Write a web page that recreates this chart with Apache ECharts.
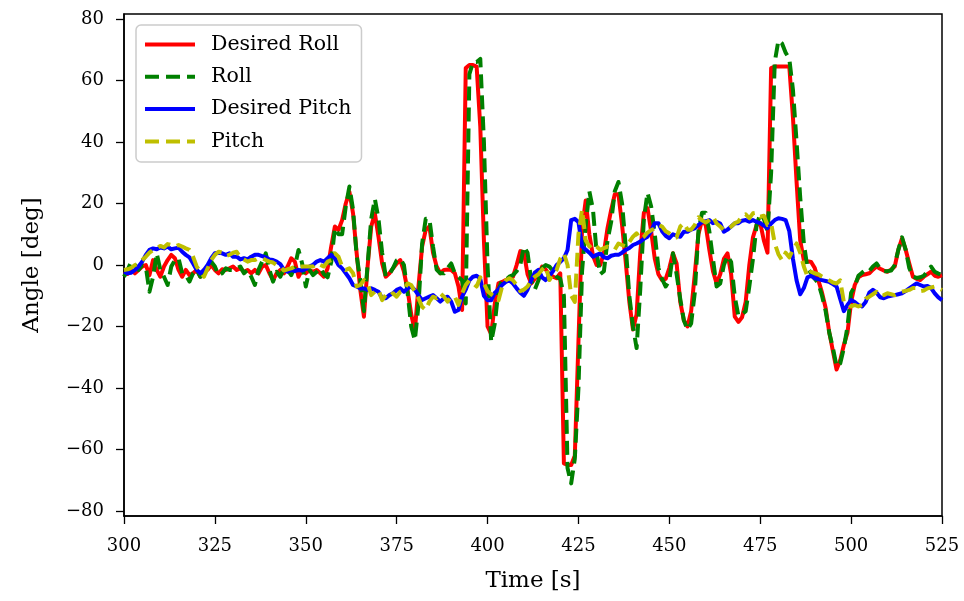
<!DOCTYPE html>
<html>
<head>
<meta charset="utf-8">
<script src="https://cdn.jsdelivr.net/npm/echarts@6/dist/echarts.min.js"></script>
<style>
html,body{margin:0;padding:0;background:#fff;}
#chart{width:964px;height:601px;}
</style>
</head>
<body>
<div id="chart"></div>
<script>
// time axis: one sample per second, 300 .. 525 s
const timeStart = 300;
const timeEnd = 525;
const xTicks = [300, 325, 350, 375, 400, 425, 450, 475, 500, 525];
const yTicks = [-80, -60, -40, -20, 0, 20, 40, 60, 80];
const seriesNames = ['Desired Roll', 'Roll', 'Desired Pitch', 'Pitch'];

const desiredRoll = [
  -2.2,-2.9,-1.6,-2.7,-1.6,-0.5,0,-3.3,1.6,-1.6,
  -3.8,-0.5,1.6,3.3,2.2,-1.6,-3.8,-1.6,-3.3,-2.7,
  -1.6,-3.8,-1.6,-1.6,0,-1.6,-2.7,-1.4,-1.6,-1.1,
  -0.5,-1.6,-1.1,-2.2,-1.6,-2.7,-1.6,-2.7,-0.5,0,
  -2.7,-4.9,-2.7,-1.6,-2.7,-0.5,2.2,1.1,-3.8,-1.6,
  -2.7,-1.6,-2.2,-1.6,-2.7,-3.8,-1.1,6,12.5,11.4,
  14.6,20,23.8,16.8,3.8,-8.1,-16.8,-0.5,12.5,16.8,
  9.2,0.5,-3.8,-2.7,-1.1,0.5,1.6,-2.2,-8.1,-16,
  -21.5,-7,6,11.4,12.5,4,-0.5,-2.7,-1.6,-1.5,
  -1.6,-2.7,-7,-14.6,64,65,65,64.5,45,8,
  -20,-22.5,-12.5,-6,-5.5,-4.9,-4.5,-3.8,0,4.5,
  4,-3,-6,-4.5,-3,-0.5,-1.5,-3,-3.8,-4.3,
  -2.7,-64.5,-65,-65,-62,-25,12,21,10,3,
  0,0,4,12,17.9,23,23,13,1,-12,
  -21,-16,4,17,18.5,11,2,-3,-4.9,-4.5,
  -1,3.8,0.5,-12,-18,-20,-15,-3,10,14.6,
  13,5,-2,-6,-3,2,3.8,-3,-16.8,-18.5,
  -17,-12,0,9,13,13.6,8,4,64,64.5,
  64.5,64.5,64.5,64.5,48,27,8,1.5,1.2,1,
  -1,-5,-9,-14,-22,-28,-34,-31,-26,-22,
  -12,-6.5,-4,-3.3,-3,-2.7,-1.5,-0.5,-1.2,-1.8,
  -2.2,-1.5,-0.5,5,8.7,5,0.5,-3.8,-4.5,-4.9,
  -3.8,-3,-2.2,-3.5,-3.8,-3.3
];

const roll = [
  -3.8,-1.6,1.1,0,-1.6,0,-0.5,-8.7,-3.8,3.8,
  -1.6,-3.8,-6.5,-0.5,1.6,2.2,-2.7,-3.3,-5.4,-2.7,
  -1.6,-3.8,-2.7,-0.5,1.1,-0.5,-3.3,-2.7,-1.1,-1.6,
  -1.6,-1.1,-0.5,-2.7,-1.6,-3.8,-6.5,-1.6,1.1,3.8,
  -1.6,-5.4,-2.2,-3.8,-1.1,-1.6,-3.3,-0.5,4.9,0.5,
  -7,-1.6,-3.3,-2.2,-1,-3,-4,1,12,10,
  10,19,25.5,18,3,-5,-15,0,15,21.5,
  15,4,-3.8,-3,-1,1.5,2,0,-9,-20,
  -24.5,-13,7,15,15,6,-1.5,-2.7,-2.7,-1,
  0.5,-2.7,-4,-5,-12.5,62,66,66,67,40,
  0,-25,-19,-8,-5,-4.9,-3.8,-3.3,-2,0,
  6,4,-5,-8,-5,-1,0,-0.5,-2,-3.8,
  -4.5,-10,-66,-71,-63,-40,-2,13,24,18,
  4,-3,-2,8,14,24,27,20,6,-10,
  -20,-27,-8,15,23.5,19,10,-1,-4.5,-7,
  -5,3.8,-3,-11,-18,-21,-19,-9,11,17,
  17,11,2,-7,-6,0,3,1,-10.3,-16.5,
  -16,-15,-7,2,13,16.5,15,11,30,66,
  73,72,69,67,57,40,22,7,-1,-2.7,
  -4.5,-6,-10,-15,-22,-27,-33,-32,-27,-20,
  -9,-7,-3.5,-2.5,-1.6,-2,-0.5,0.5,-1.2,-2,
  -2,-1.8,0,5,9,5,-1,-3.8,-4.2,-4,
  -3.5,-2,-0.5,-2.2,-2.8,-3.3
];

const desiredPitch = [
  -2.2,-2.7,-2.5,-1.6,-0.5,1.1,3.3,4.9,5.4,5.1,
  5.7,5.4,6,5.1,5.4,5.6,4.3,3.3,2.5,0.5,
  -1.6,-2.7,-1.6,0,2.2,3.8,4,3.8,3.3,3.8,
  2.7,2.7,1.8,2.2,1.8,2.7,3.3,3.3,2.9,2.5,
  1.8,1.6,1.1,0.3,-1.6,-2.2,-1.6,-2,-1.6,-1.8,
  -1.3,-0.5,0.1,1.1,1.6,1.1,2.2,3.3,2.2,0,
  -1.1,-2.7,-4.3,-6.5,-7,-7.6,-7.6,-8.1,-7.6,-8.1,
  -8.7,-10.8,-10.8,-9.8,-9.2,-8.1,-7.6,-8.7,-7.6,-7,
  -8.1,-9.8,-11.4,-10.8,-10.3,-9.8,-10.8,-11.9,-10.8,-10.3,
  -11.9,-15.2,-14.6,-10.3,-8,-5,-3.8,-3.5,-4.5,-10,
  -11.5,-11.5,-9,-8,-6.5,-5.5,-5,-6,-7.6,-9,
  -10,-8,-5,-2.5,-1.6,-4,-4.9,-3.5,-2,0,
  1,2.2,4.9,14.6,15,14,6,5,4,2.7,
  3.3,3.8,2.5,2.2,3,3.3,3.3,4,4.9,5.5,
  6.5,7,7.6,8.5,9.2,11,13.6,13.6,11,9.5,
  8.7,10,9.5,9.2,10.8,10.8,11.5,11.9,13,14,
  14.2,14.6,13.6,14,13.5,10.8,11.5,12.5,13.6,13.6,
  14.4,14.6,14.1,14.6,14,13.6,12.8,12,13.5,14.6,
  15.2,15,14.6,11,2,-5,-9.5,-7.5,-4,-3.5,
  -4.3,-4.6,-4.9,-5.2,-5.5,-6.2,-7,-11,-15,-13,
  -11.4,-12,-13,-13.5,-12,-9,-8.1,-9,-10.5,-10.8,
  -10.3,-10,-9.8,-9.5,-9.2,-8.5,-7.6,-6.8,-6,-6.5,
  -7,-6.8,-7.5,-9.2,-10.5,-11.4
];

const pitch = [
  -1.6,-1.4,-0.9,0,0.5,1.6,2.7,4,4.9,5.4,
  6.2,5.7,6.8,6.5,6,6.5,6,5.4,4.9,2.7,
  -0.5,-2.2,-3.8,-1.1,1.6,3.3,4.3,4,2.9,3.3,
  4,4.3,2.5,1.8,1.1,1.6,1.6,2.2,2.2,1.6,
  1.1,0.8,0,-0.5,-1.8,-1.4,-1.1,-0.5,-0.8,-0.5,
  -0.5,-0.5,-0.5,0.5,0,-0.5,1.1,1.6,3.8,2.7,
  -0.5,-1.6,-1.1,-2.7,-7,-6.5,-4.9,-6,-9.8,-8.7,
  -8.1,-11.4,-9.8,-10.3,-9.2,-10.3,-8.7,-8.1,-6,-6.5,
  -8.7,-10.8,-13.6,-14.6,-11.9,-10.3,-10.8,-9.2,-10.3,-11.9,
  -10.3,-10.3,-13,-9.2,-6.5,-5,-6,-7,-4,-6,
  -8.5,-9.5,-10.3,-11.5,-7,-5,-4.3,-5,-6.5,-8.5,
  -8,-7,-5,-3.8,-3,-1.5,-0.5,-4.9,-3,-1.6,
  2,3.8,0,-10,-12,10,18,8,6,7,
  6,4.9,5.5,6,5.5,5,7,6.5,6,7.5,
  9.2,10.3,8.5,9.2,10.5,11.3,11.9,13,12.5,11,
  10.3,9.5,9,12.5,13.6,11.5,11.5,13,15.5,14.5,
  13.8,14.6,15.7,13.5,12.5,11.4,11.7,12.5,13.6,14.1,
  16,16.5,15.2,16.8,17,15.7,16,13,13.6,7,
  3.5,1.6,4,2.5,5,7,4,-0.5,-3.8,-2.2,
  -2.7,-3,-3.8,-4.3,-5,-5.7,-6,-5,-12,-12.5,
  -13.5,-13,-13.5,-13,-11,-10.3,-9.5,-8.7,-10,-9.8,
  -9.2,-9.5,-9.8,-9.2,-8.7,-8.4,-8.1,-7.5,-7.5,-8.5,
  -8.3,-7.6,-7.3,-7,-7.5,-8.1
];

const times = [];
for (let t = timeStart; t <= timeEnd; t++) times.push(t);
const pairs = vals => times.map((t, i) => [t, vals[i]]);

const FONT = 'DejaVu Serif';
const minus = v => String(v).replace('-', '\u2212');

function lineSeries(name, vals, color, dashed) {
  return {
    name: name,
    type: 'line',
    data: pairs(vals),
    symbol: 'none',
    showSymbol: false,
    smooth: false,
    clip: true,
    lineStyle: { color: color, width: 4, type: dashed ? [14, 7] : 'solid', cap: 'butt', join: 'round' },
    itemStyle: { color: color },
    emphasis: { disabled: true }
  };
}

const chart = echarts.init(document.getElementById('chart'), null, { renderer: 'canvas' });
chart.setOption({
  animation: false,
  backgroundColor: '#ffffff',
  grid: {
    left: 124, right: 22, top: 14, bottom: 85,
    show: true, borderColor: '#000', borderWidth: 1.5, backgroundColor: 'transparent'
  },
  legend: {
    orient: 'vertical',
    left: 136, top: 25,
    padding: [9, 10, 10, 7],
    itemWidth: 50, itemHeight: 20, itemGap: 11.3,
    backgroundColor: 'rgba(255,255,255,0.8)',
    borderColor: '#cccccc', borderWidth: 1.5, borderRadius: 5,
    itemStyle: { opacity: 0, color: 'transparent', borderWidth: 0 },
    lineStyle: { width: 4 },
    textStyle: { fontFamily: FONT, fontSize: 20.5, color: '#000', padding: [0, 0, 0, 11] },
    data: seriesNames
  },
  xAxis: {
    type: 'value',
    min: timeStart, max: timeEnd, interval: 25,
    name: 'Time [s]', nameLocation: 'middle', nameGap: 54,
    nameTextStyle: { fontFamily: FONT, fontSize: 23, color: '#000' },
    axisLine: { show: true, onZero: false, lineStyle: { color: '#000', width: 1.5 } },
    axisTick: { show: true, inside: false, length: 8, lineStyle: { color: '#000', width: 1.3 } },
    axisLabel: { fontFamily: FONT, fontSize: 18, color: '#000', margin: 21, customValues: xTicks },
    splitLine: { show: false }
  },
  yAxis: {
    type: 'value',
    min: -81.6, max: 81.6,
    name: 'Angle [deg]', nameLocation: 'middle', nameGap: 80, nameRotate: 90,
    nameTextStyle: { fontFamily: FONT, fontSize: 23, color: '#000' },
    axisLine: { show: true, onZero: false, lineStyle: { color: '#000', width: 1.5 } },
    axisTick: { show: true, inside: false, length: 8, lineStyle: { color: '#000', width: 1.3 }, customValues: yTicks },
    axisLabel: { fontFamily: FONT, fontSize: 18, color: '#000', margin: 20, customValues: yTicks, formatter: minus },
    splitLine: { show: false }
  },
  series: [
    lineSeries(seriesNames[0], desiredRoll, '#ff0000', false),
    lineSeries(seriesNames[1], roll, '#008000', true),
    lineSeries(seriesNames[2], desiredPitch, '#0000ff', false),
    lineSeries(seriesNames[3], pitch, '#bfbf00', true)
  ]
});
</script>
</body>
</html>
